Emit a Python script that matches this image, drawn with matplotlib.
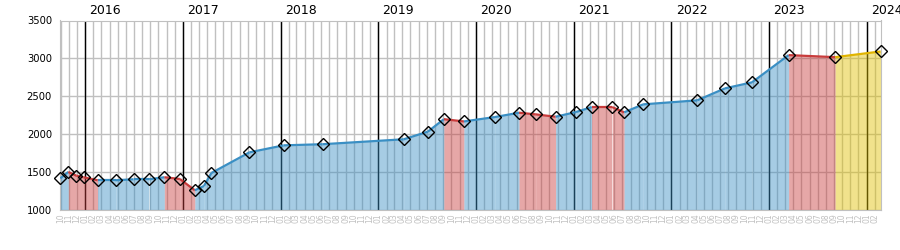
import matplotlib
matplotlib.use("Agg")
import matplotlib.pyplot as plt
import pandas as pd

# points (date, value) and the trend of each stretch
DATES = ["2015-09-30", "2015-10-30", "2015-11-29", "2015-12-26", "2016-02-17",
         "2016-04-24", "2016-06-30", "2016-08-27", "2016-10-23", "2016-12-20",
         "2017-02-14", "2017-03-20", "2017-04-17", "2017-09-06", "2018-01-12",
         "2018-06-07", "2019-04-06", "2019-07-05", "2019-09-03", "2019-11-17",
         "2020-03-12", "2020-06-10", "2020-08-12", "2020-10-25", "2021-01-09",
         "2021-03-09", "2021-05-24", "2021-07-08", "2021-09-17", "2022-04-07",
         "2022-07-20", "2022-10-29", "2023-03-15", "2023-09-05", "2024-02-22"]
VALUES = [1420, 1505, 1455, 1435, 1395,
          1395, 1408, 1408, 1435, 1412,
          1263, 1320, 1491, 1763, 1855,
          1870, 1935, 2035, 2200, 2170,
          2228, 2285, 2263, 2232, 2294,
          2360, 2360, 2290, 2395, 2448,
          2606, 2685, 3044, 3017, 3092]
TREND = ["up", "down", "down", "down", "up",
         "up", "up", "up", "down", "down",
         "up", "up", "up", "up", "up",
         "up", "up", "up", "down", "up",
         "up", "down", "down", "up", "up",
         "down", "down", "up", "up", "up",
         "up", "up", "down", "now"]
YTICKS = [1000, 1500, 2000, 2500, 3000, 3500]

LINE_COLORS = {"up": "#3a8fc4", "down": "#c83c3c", "now": "#e0b400"}
FILL_COLORS = {"up": "#3a8fc4", "down": "#c83c3c", "now": "#e0c000"}
GRID = "#c0c0c0"


def draw_chart(dates, values):
    fig = plt.figure(figsize=(9, 2.5), dpi=100)
    ax = fig.add_axes([0.067, 0.159, 0.9115, 0.759])

    for i, trend in enumerate(TREND):
        xs = dates[i:i + 2]
        ys = values[i:i + 2]
        ax.fill_between(xs, ys, 1000, color=FILL_COLORS[trend], alpha=0.45,
                        linewidth=0, zorder=2)
        ax.plot(xs, ys, color=LINE_COLORS[trend], linewidth=1.6, zorder=3,
                solid_capstyle="butt")

    ax.plot(dates, values, linestyle="none", marker="D", markersize=6,
            markerfacecolor="none", markeredgecolor="black",
            markeredgewidth=1, zorder=4, clip_on=False)

    # month grid + year lines
    months = pd.date_range("2015-10-01", "2024-02-01", freq="MS")
    years = pd.date_range("2016-01-01", "2024-01-01", freq="YS")
    for m in months:
        ax.axvline(m, color=GRID, linewidth=1, zorder=0.5)
    for y in YTICKS:
        ax.axhline(y, color=GRID, linewidth=1, zorder=0.5)
    for y in years:
        ax.axvline(y, color="black", linewidth=1, zorder=1)
        ax.annotate(str(y.year), xy=(y, 1), xycoords=("data", "axes fraction"),
                    xytext=(3, 2.5), textcoords="offset points",
                    ha="left", va="bottom", fontsize=9)

    ax.set_xlim(dates[0], dates[-1])
    ax.set_ylim(1000, 3500)
    ax.set_yticks(YTICKS)
    ax.set_xticks(months)
    ax.set_xticklabels([m.strftime("%m") for m in months], rotation=90,
                       fontsize=5.5, color="#c0c0c0")
    ax.tick_params(axis="both", length=0)
    ax.tick_params(axis="y", labelsize=7.2, pad=6)
    ax.tick_params(axis="x", pad=2)
    for s in ax.spines.values():
        s.set_color(GRID)

    fig.savefig("out.png", dpi=100)


def main():
    dates = list(pd.to_datetime(DATES))
    draw_chart(dates, VALUES)


main()
